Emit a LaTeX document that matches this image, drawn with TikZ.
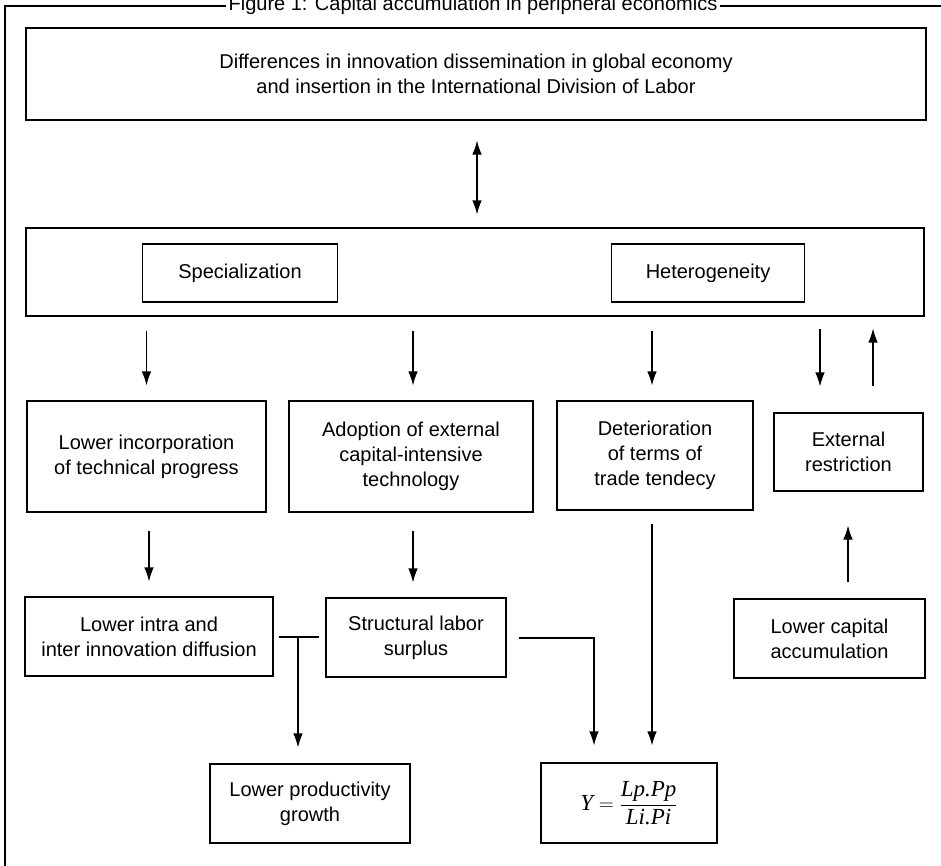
\documentclass[tikz,border=0pt]{standalone}
\usepackage{amsmath}
\usepackage{fontspec}
\setmainfont{Liberation Sans}
\newfontfamily\formfont{Liberation Serif}
\usetikzlibrary{arrows.meta}

\begin{document}
\begin{tikzpicture}[x=1pt, y=-1pt, >={Latex[length=14pt,width=9.5pt]}, line width=1.1pt,
  font=\fontsize{20}{25}\selectfont,
  box/.style={draw, align=center, inner sep=0pt}]
\useasboundingbox (0,0) rectangle (941,865);
\draw (5,880) -- (5,6) -- (960,6);
\node[fill=white, inner xsep=3pt, inner ysep=1pt, anchor=base] (title) at (473,10) {Figure 1: Capital accumulation in peripheral economics};
\node[box, minimum width=900, minimum height=92] (diff) at (476,74) {Differences in innovation dissemination in global economy\\and insertion in the International Division of Labor};
\node[box, minimum width=898, minimum height=88] (struct) at (475,272) {};
\node[box, minimum width=195, minimum height=58] (spec) at (240,273) {Specialization};
\node[box, minimum width=193, minimum height=58] (het) at (708,273) {Heterogeneity};
\node[box, minimum width=239, minimum height=111] (inc) at (146.5,456.5) {Lower incorporation\\of technical progress};
\node[box, minimum width=244, minimum height=111] (adopt) at (411,456.5) {Adoption of external\\capital-intensive\\technology};
\node[box, minimum width=196, minimum height=109] (det) at (655,455.5) {Deterioration\\of terms of\\trade tendecy};
\node[box, minimum width=149, minimum height=78] (ext) at (848.5,452) {External\\restriction};
\node[box, minimum width=248, minimum height=79] (intra) at (149,636.5) {Lower intra and\\inter innovation diffusion};
\node[box, minimum width=180, minimum height=79] (surplus) at (416,637.5) {Structural labor\\surplus};
\node[box, minimum width=191, minimum height=79] (acc) at (829.5,638.5) {Lower capital\\accumulation};
\node[box, minimum width=200, minimum height=79] (prod) at (310,803.5) {Lower productivity\\growth};
\node[box, minimum width=176, minimum height=80] (form) at (629,803) {$\mbox{\formfont\itshape\fontsize{23}{26}\selectfont Y} = \dfrac{\mbox{\formfont\itshape\fontsize{23}{26}\selectfont Lp.Pp}}{\mbox{\formfont\itshape\fontsize{23}{26}\selectfont Li.Pi}}$};
\coordinate (junc) at (298,637);\coordinate (bend) at (594,638);
\draw[<->, shorten <=20pt, shorten >=13pt] (diff.south -| 477,0) -- (struct.north -| 477,0);
\draw[->, shorten <=14pt, shorten >=15pt] (struct.south -| inc.north) -- (inc.north);
\draw[->, shorten <=14pt, shorten >=15pt] (struct.south -| 413,0) -- (adopt.north -| 413,0);
\draw[->, shorten <=14pt, shorten >=15pt] (struct.south -| 652,0) -- (det.north -| 652,0);
\draw[->, shorten <=12pt, shorten >=26pt] (struct.south -| 820,0) -- (ext.north -| 820,0);
\draw[<-, shorten <=12pt, shorten >=26pt] (struct.south -| 873,0) -- (ext.north -| 873,0);
\draw[->, shorten <=18pt, shorten >=15pt] (inc.south -| intra.north) -- (intra.north);
\draw[->, shorten <=18pt, shorten >=15pt] (adopt.south -| 413,0) -- (surplus.north -| 413,0);
\draw[shorten <=5pt, shorten >=6pt] (intra.east |- junc) -- (surplus.west |- junc);
\draw[->, shorten >=16pt] (junc) -- (prod.north -| junc);
\draw[->, shorten >=17pt] ([xshift=12pt]surplus.east |- bend) -- (bend) -- (form.north -| bend);
\draw[->, shorten <=13pt, shorten >=17pt] (det.south -| 652,0) -- (form.north -| 652,0);
\draw[->, shorten <=16pt, shorten >=34pt] (acc.north -| 848,0) -- (ext.south -| 848,0);
\end{tikzpicture}
\end{document}
